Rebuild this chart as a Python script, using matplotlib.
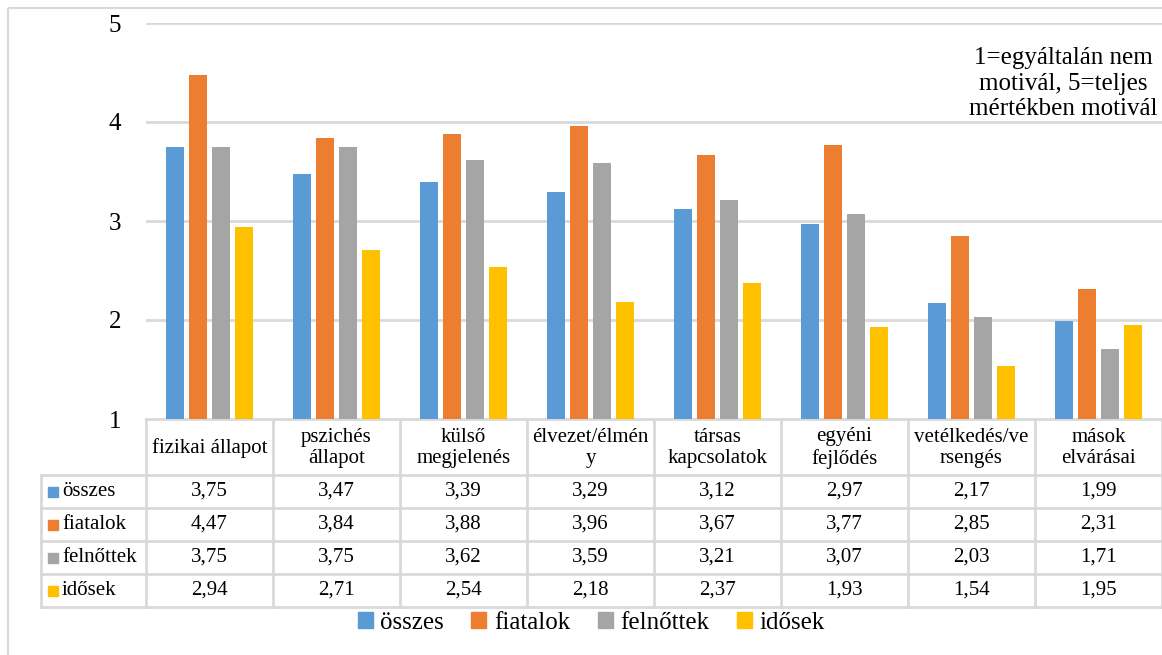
import matplotlib.pyplot as plt
from matplotlib.patches import Rectangle, Patch

plt.rcParams['font.family'] = ['Liberation Serif', 'DejaVu Serif']

# adatok
kategoriak = ['fizikai állapot', 'pszichés\nállapot', 'külső\nmegjelenés', 'élvezet/élmén\ny',
              'társas\nkapcsolatok', 'egyéni\nfejlődés', 'vetélkedés/ve\nrsengés', 'mások\nelvárásai']
sorozatok = ['összes', 'fiatalok', 'felnőttek', 'idősek']
osszes = [3.75, 3.47, 3.39, 3.29, 3.12, 2.97, 2.17, 1.99]
fiatalok = [4.47, 3.84, 3.88, 3.96, 3.67, 3.77, 2.85, 2.31]
felnottek = [3.75, 3.75, 3.62, 3.59, 3.21, 3.07, 2.03, 1.71]
idosek = [2.94, 2.71, 2.54, 2.18, 2.37, 1.93, 1.54, 1.95]
szinek = ['#5B9BD5', '#ED7D31', '#A5A5A5', '#FFC000']
megjegyzes = '1=egyáltalán nem\nmotivál, 5=teljes\nmértékben motivál'

ertekek = [osszes, fiatalok, felnottek, idosek]

W, H = 1162, 655
fig = plt.figure(figsize=(W / 100, H / 100), dpi=100)

# háttér-tengely pixel koordinátákkal (keret, táblázat)
hatter = fig.add_axes([0, 0, 1, 1])
hatter.set_xlim(0, W)
hatter.set_ylim(H, 0)
hatter.axis('off')
hatter.add_patch(Rectangle((8, 8), 1300, 800, fill=False, edgecolor='#d9d9d9', lw=1.5))

# oszlopdiagram
bal, jobb, felso, also = 146, 1162, 23, 419
ax = fig.add_axes([bal / W, 1 - also / H, (jobb - bal) / W, (also - felso) / H])
n = len(kategoriak)
szel = 18 / 127
lepes = 23 / 127
for i, (nev, v) in enumerate(zip(sorozatok, ertekek)):
    xs = [k + (i - 1.5) * lepes for k in range(n)]
    ax.bar(xs, v, width=szel, color=szinek[i], zorder=2)
ax.set_xlim(-0.5, n - 0.5)
ax.set_ylim(1, 5)
ax.set_yticks([1, 2, 3, 4, 5])
ax.set_xticks([])
ax.grid(axis='y', color='#d9d9d9', lw=2)
ax.set_axisbelow(True)
for s in ax.spines.values():
    s.set_visible(False)
ax.tick_params(axis='y', length=0, pad=18, labelsize=18)
ax.text(0.903, 0.847, megjegyzes, transform=ax.transAxes, ha='center', va='center',
        fontsize=18, linespacing=1.2)

# adattáblázat
oszlop = (jobb - bal) / n
sorok_y = [475, 508, 541, 574, 607]
lc = '#d9d9d9'
hatter.plot([bal, jobb], [also, also], color=lc, lw=2)
for y in sorok_y:
    hatter.plot([41, jobb], [y, y], color=lc, lw=2)
hatter.plot([41, 41], [sorok_y[0], sorok_y[-1]], color=lc, lw=2)
for k in range(n + 1):
    x = bal + k * oszlop
    hatter.plot([x, x], [also, sorok_y[-1]], color=lc, lw=2)
for k, kat in enumerate(kategoriak):
    hatter.text(bal + (k + 0.5) * oszlop, (also + sorok_y[0]) / 2 + 1, kat,
                ha='center', va='center', fontsize=15, linespacing=1.15)
for i, (nev, v) in enumerate(zip(sorozatok, ertekek)):
    yc = (sorok_y[i] + sorok_y[i + 1]) / 2
    hatter.add_patch(Rectangle((48, yc - 5), 10, 10, color=szinek[i]))
    hatter.text(62, yc, nev, ha='left', va='center', fontsize=15)
    for k, e in enumerate(v):
        hatter.text(bal + (k + 0.5) * oszlop, yc, f'{e:.2f}'.replace('.', ','),
                    ha='center', va='center', fontsize=15)

# jelmagyarázat
kezelok = [Patch(color=c, label=s) for s, c in zip(sorozatok, szinek)]
fig.legend(handles=kezelok, loc='center', bbox_to_anchor=(591 / W, 1 - 623 / H), ncol=4,
           frameon=False, fontsize=18, handlelength=0.6, handleheight=0.6,
           handletextpad=0.3, columnspacing=1.1, borderpad=0)

fig.savefig('out.png', dpi=100)
